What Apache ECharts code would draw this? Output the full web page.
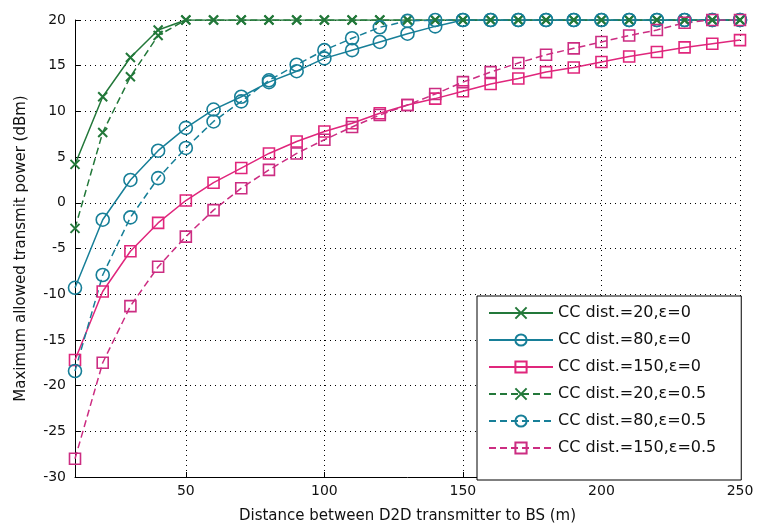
<!DOCTYPE html>
<html>
<head>
<meta charset="utf-8">
<script src="https://cdn.jsdelivr.net/npm/echarts@6/dist/echarts.min.js"></script>
<style>
  html, body { margin: 0; padding: 0; background: #fff; }
  #chart { width: 759px; height: 529px; }
</style>
</head>
<body>
<div id="chart"></div>
<script>
// distance between D2D transmitter and BS (m)
const distance = [10, 20, 30, 40, 50, 60, 70, 80, 90, 100, 110, 120, 130, 140, 150, 160, 170, 180, 190, 200, 210, 220, 230, 240, 250]

// max allowed transmit power (dBm)
const cc20eps0 = [4.2, 11.6, 15.9, 18.9, 20, 20, 20, 20, 20, 20, 20, 20, 20, 20, 20, 20, 20, 20, 20, 20, 20, 20, 20, 20, 20]
const cc80eps0 = [-9.3, -1.85, 2.5, 5.7, 8.2, 10.2, 11.6, 13.2, 14.4, 15.8, 16.7, 17.6, 18.5, 19.3, 20, 20, 20, 20, 20, 20, 20, 20, 20, 20, 20]
const cc150eps0 = [-17.2, -9.7, -5.3, -2.2, 0.25, 2.2, 3.8, 5.4, 6.7, 7.8, 8.7, 9.8, 10.7, 11.4, 12.2, 13.0, 13.6, 14.3, 14.8, 15.4, 16.0, 16.5, 17.0, 17.4, 17.8]
const cc20eps05 = [-2.8, 7.7, 13.8, 18.3, 20, 20, 20, 20, 20, 20, 20, 20, 20, 20, 20, 20, 20, 20, 20, 20, 20, 20, 20, 20, 20]
const cc80eps05 = [-18.4, -7.9, -1.6, 2.7, 6.0, 8.9, 11.1, 13.4, 15.1, 16.7, 18.0, 19.2, 19.9, 20, 20, 20, 20, 20, 20, 20, 20, 20, 20, 20, 20]
const cc150eps05 = [-28, -17.5, -11.3, -7.0, -3.7, -0.8, 1.6, 3.6, 5.4, 6.9, 8.3, 9.6, 10.7, 11.9, 13.2, 14.3, 15.3, 16.2, 16.9, 17.6, 18.3, 18.9, 19.7, 20, 20]

const names = [
  'CC dist.=20,ε=0',
  'CC dist.=80,ε=0',
  'CC dist.=150,ε=0',
  'CC dist.=20,ε=0.5',
  'CC dist.=80,ε=0.5',
  'CC dist.=150,ε=0.5',
]

const GREEN = '#23783a'
const TEAL = '#177f98'
const PINK = '#e0267c'
const PINK2 = '#cc2d82'
const CROSS = 'path://M0,0L10,10M10,0L0,10'
const FONT = 'DejaVu Sans, sans-serif'

const zip = (ys) => distance.map((x, i) => [x, ys[i]])

const makeSeries = (name, ys, color, symbol, size, dashed) => ({
  name,
  type: 'line',
  data: zip(ys),
  symbol,
  symbolSize: size,
  showSymbol: true,
  animation: false,
  lineStyle: { color, width: 1.5, type: dashed ? [7, 4] : 'solid' },
  itemStyle: { color: 'transparent', borderColor: color, borderWidth: symbol === CROSS ? 2 : 1.6 },
})

const chart = echarts.init(document.getElementById('chart'))

const options = {
  backgroundColor: '#fff',
  animation: false,
  textStyle: { fontFamily: FONT },
  grid: { left: 75, right: 19, top: 20, bottom: 51 },
  legend: {
    orient: 'vertical',
    left: 477,
    top: 296,
    padding: [9, 25, 24, 11],
    itemWidth: 64,
    itemHeight: 14,
    itemGap: 11,
    backgroundColor: '#fff',
    borderColor: '#000',
    borderWidth: 1,
    borderRadius: 0,
    textStyle: { fontSize: 16, color: '#111', fontFamily: FONT },
    data: names,
  },
  xAxis: {
    type: 'value',
    min: 10,
    max: 250,
    splitNumber: 5,
    name: 'Distance between D2D transmitter to BS (m)',
    nameLocation: 'middle',
    nameGap: 32,
    nameTextStyle: { fontSize: 15, color: '#111', fontFamily: FONT },
    axisLine: { onZero: false, lineStyle: { color: '#000', width: 1 } },
    axisTick: { inside: true, length: 5, lineStyle: { color: '#000' } },
    axisLabel: { showMinLabel: false, fontSize: 14, color: '#111', margin: 7 },
    splitLine: { show: true, lineStyle: { color: '#000', type: [1, 4], width: 1 } },
  },
  yAxis: {
    type: 'value',
    min: -30,
    max: 20,
    interval: 5,
    name: 'Maximum allowed transmit power (dBm)',
    nameLocation: 'middle',
    nameGap: 46,
    nameTextStyle: { fontSize: 15, color: '#111', fontFamily: FONT },
    axisLine: { show: true, onZero: false, lineStyle: { color: '#000', width: 1 } },
    axisTick: { show: true, inside: true, length: 5, lineStyle: { color: '#000' } },
    axisLabel: { fontSize: 14, color: '#111', margin: 9 },
    splitLine: { show: true, lineStyle: { color: '#000', type: [1, 4], width: 1 } },
  },
  series: [
    makeSeries(names[0], cc20eps0, GREEN, CROSS, 9, false),
    makeSeries(names[1], cc80eps0, TEAL, 'circle', 13, false),
    makeSeries(names[2], cc150eps0, PINK, 'rect', 11, false),
    makeSeries(names[3], cc20eps05, GREEN, CROSS, 9, true),
    makeSeries(names[4], cc80eps05, TEAL, 'circle', 13, true),
    makeSeries(names[5], cc150eps05, PINK2, 'rect', 11, true),
  ],
}

chart.setOption(options)
</script>
</body>
</html>
